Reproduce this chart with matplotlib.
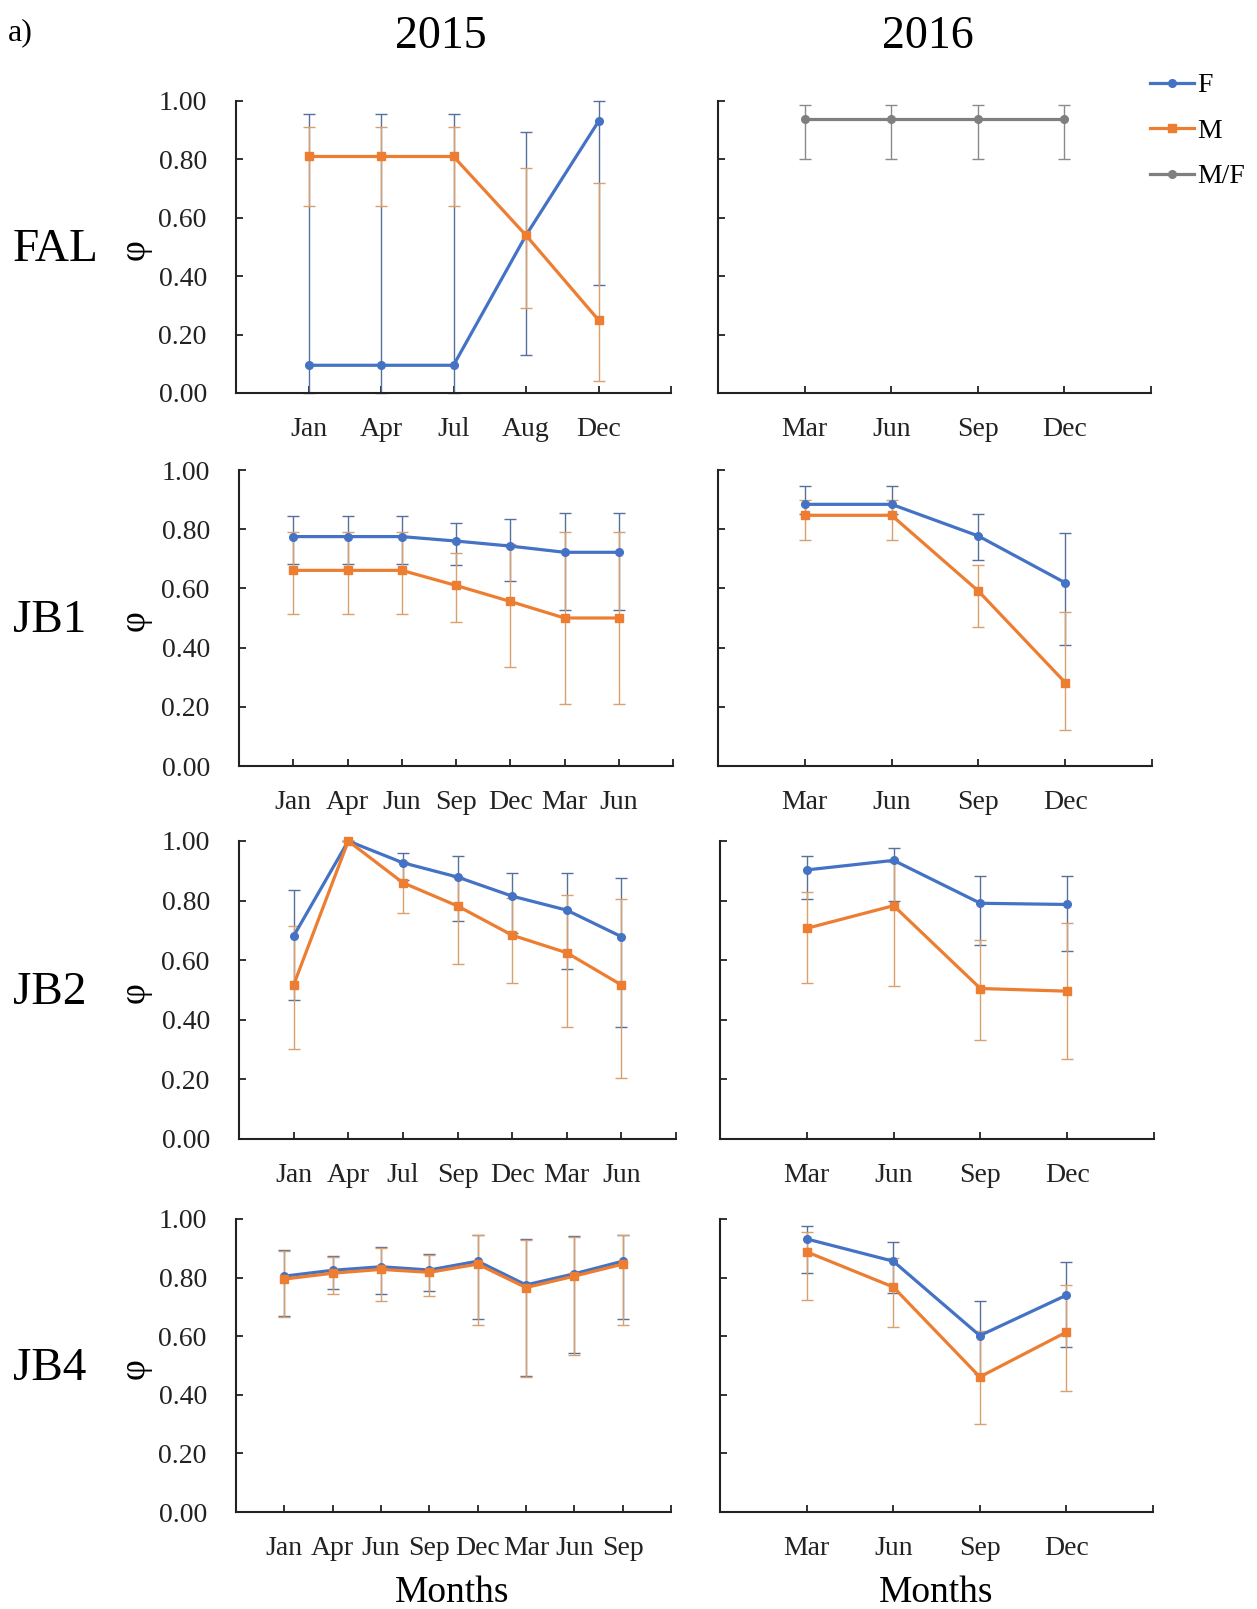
import matplotlib
matplotlib.use("Agg")
import matplotlib.pyplot as plt
import numpy as np

plt.rcParams['font.family'] = ['Liberation Serif', 'DejaVu Serif']

# ---- data ----
months_fal15 = ["Jan", "Apr", "Jul", "Aug", "Dec"]
fal15_f = [0.095, 0.095, 0.095, 0.54, 0.93]
fal15_f_lo = [0.0, 0.0, 0.0, 0.13, 0.37]
fal15_f_hi = [0.955, 0.955, 0.955, 0.895, 1.0]
fal15_m = [0.81, 0.81, 0.81, 0.54, 0.25]
fal15_m_lo = [0.64, 0.64, 0.64, 0.29, 0.04]
fal15_m_hi = [0.91, 0.91, 0.91, 0.77, 0.72]

months_16 = ["Mar", "Jun", "Sep", "Dec"]
fal16_mf = [0.94, 0.94, 0.94, 0.94]
fal16_mf_lo = [0.80, 0.80, 0.80, 0.80]
fal16_mf_hi = [0.985, 0.985, 0.985, 0.985]

months_jb1_15 = ["Jan", "Apr", "Jun", "Sep", "Dec", "Mar", "Jun"]
jb1_15_f = [0.775, 0.775, 0.775, 0.76, 0.743, 0.722, 0.722]
jb1_15_f_lo = [0.683, 0.683, 0.683, 0.679, 0.624, 0.528, 0.528]
jb1_15_f_hi = [0.845, 0.845, 0.845, 0.822, 0.834, 0.856, 0.856]
jb1_15_m = [0.661, 0.661, 0.661, 0.61, 0.556, 0.50, 0.50]
jb1_15_m_lo = [0.513, 0.513, 0.513, 0.485, 0.336, 0.208, 0.208]
jb1_15_m_hi = [0.79, 0.79, 0.79, 0.718, 0.75, 0.792, 0.792]

jb1_16_f = [0.884, 0.884, 0.777, 0.619]
jb1_16_f_lo = [0.85, 0.85, 0.697, 0.409]
jb1_16_f_hi = [0.947, 0.947, 0.852, 0.786]
jb1_16_m = [0.847, 0.847, 0.591, 0.282]
jb1_16_m_lo = [0.764, 0.764, 0.471, 0.12]
jb1_16_m_hi = [0.90, 0.90, 0.68, 0.519]

months_jb2_15 = ["Jan", "Apr", "Jul", "Sep", "Dec", "Mar", "Jun"]
jb2_15_f = [0.681, 1.0, 0.927, 0.879, 0.815, 0.768, 0.679]
jb2_15_f_lo = [0.467, 1.0, 0.87, 0.731, 0.692, 0.570, 0.375]
jb2_15_f_hi = [0.835, 1.0, 0.961, 0.95, 0.891, 0.891, 0.877]
jb2_15_m = [0.517, 1.0, 0.86, 0.782, 0.684, 0.625, 0.517]
jb2_15_m_lo = [0.301, 1.0, 0.757, 0.587, 0.522, 0.375, 0.204]
jb2_15_m_hi = [0.714, 1.0, 0.93, 0.88, 0.81, 0.818, 0.807]

jb2_16_f = [0.903, 0.935, 0.791, 0.787]
jb2_16_f_lo = [0.806, 0.80, 0.651, 0.63]
jb2_16_f_hi = [0.949, 0.976, 0.882, 0.882]
jb2_16_m = [0.707, 0.783, 0.505, 0.496]
jb2_16_m_lo = [0.525, 0.514, 0.332, 0.267]
jb2_16_m_hi = [0.828, 0.93, 0.669, 0.724]

months_jb4_15 = ["Jan", "Apr", "Jun", "Sep", "Dec", "Mar", "Jun", "Sep"]
jb4_15_f = [0.805, 0.825, 0.837, 0.826, 0.856, 0.775, 0.813, 0.856]
jb4_15_f_lo = [0.669, 0.76, 0.743, 0.754, 0.66, 0.465, 0.541, 0.66]
jb4_15_f_hi = [0.893, 0.873, 0.905, 0.881, 0.947, 0.932, 0.941, 0.947]
jb4_15_m = [0.795, 0.815, 0.828, 0.818, 0.846, 0.766, 0.805, 0.846]
jb4_15_m_lo = [0.665, 0.745, 0.72, 0.737, 0.638, 0.46, 0.535, 0.638]
jb4_15_m_hi = [0.89, 0.87, 0.90, 0.878, 0.945, 0.93, 0.94, 0.945]

jb4_16_f = [0.932, 0.856, 0.602, 0.74]
jb4_16_f_lo = [0.816, 0.748, 0.47, 0.564]
jb4_16_f_hi = [0.977, 0.922, 0.719, 0.853]
jb4_16_m = [0.888, 0.768, 0.461, 0.614]
jb4_16_m_lo = [0.725, 0.631, 0.299, 0.413]
jb4_16_m_hi = [0.956, 0.867, 0.617, 0.776]

sites = ["FAL", "JB1", "JB2", "JB4"]
years = ["2015", "2016"]

# colours
c_f, c_m, c_mf = "#4472C4", "#ED7D31", "#7F7F7F"
e_f, e_m, e_mf = "#56709c", "#d9a06e", "#8a8a8a"

W, H = 1257, 1609
fig = plt.figure(figsize=(W / 100, H / 100), dpi=100)


def box(x0, y0, x1, y1):
    return [x0 / W, 1 - y1 / H, (x1 - x0) / W, (y1 - y0) / H]


# axes boxes in pixels (left, top, right, bottom)
boxes = [
    [(236, 101, 671, 393), (718, 101, 1151, 393)],
    [(239, 470, 673, 766), (718, 470, 1152, 766)],
    [(239, 841, 676, 1139), (720, 841, 1154, 1139)],
    [(236, 1219, 671, 1512), (720, 1219, 1153, 1512)],
]

panels = [
    [(months_fal15, [(fal15_f, fal15_f_lo, fal15_f_hi, "F"), (fal15_m, fal15_m_lo, fal15_m_hi, "M")]),
     (months_16, [(fal16_mf, fal16_mf_lo, fal16_mf_hi, "M/F")])],
    [(months_jb1_15, [(jb1_15_f, jb1_15_f_lo, jb1_15_f_hi, "F"), (jb1_15_m, jb1_15_m_lo, jb1_15_m_hi, "M")]),
     (months_16, [(jb1_16_f, jb1_16_f_lo, jb1_16_f_hi, "F"), (jb1_16_m, jb1_16_m_lo, jb1_16_m_hi, "M")])],
    [(months_jb2_15, [(jb2_15_f, jb2_15_f_lo, jb2_15_f_hi, "F"), (jb2_15_m, jb2_15_m_lo, jb2_15_m_hi, "M")]),
     (months_16, [(jb2_16_f, jb2_16_f_lo, jb2_16_f_hi, "F"), (jb2_16_m, jb2_16_m_lo, jb2_16_m_hi, "M")])],
    [(months_jb4_15, [(jb4_15_f, jb4_15_f_lo, jb4_15_f_hi, "F"), (jb4_15_m, jb4_15_m_lo, jb4_15_m_hi, "M")]),
     (months_16, [(jb4_16_f, jb4_16_f_lo, jb4_16_f_hi, "F"), (jb4_16_m, jb4_16_m_lo, jb4_16_m_hi, "M")])],
]

style = {"F": (c_f, e_f, "o", 5.5), "M": (c_m, e_m, "s", 5.5), "M/F": (c_mf, e_mf, "o", 5.5)}
handles = {}

for r in range(4):
    for c in range(2):
        months, series = panels[r][c]
        ax = fig.add_axes(box(*boxes[r][c]))
        n = len(months)
        x = np.arange(1, n + 1)
        # error bars first, lines on top
        for y, lo, hi, lab in series:
            y, lo, hi = np.array(y), np.array(lo), np.array(hi)
            col, ecol, mk, ms = style[lab]
            ax.errorbar(x, y, yerr=[y - lo, hi - y], fmt='none', ecolor=ecol,
                        elinewidth=1.0, capsize=4.5, capthick=1.0, zorder=2, clip_on=False)
        for k, (y, lo, hi, lab) in enumerate(series):
            col, ecol, mk, ms = style[lab]
            ln, = ax.plot(x, y, color=col, lw=2.3, marker=mk, ms=ms, zorder=3 + k,
                          clip_on=False, label=lab)
            handles[lab] = ln
        ax.set_xlim(0, n + 1)
        ax.set_ylim(0, 1.0)
        ax.set_xticks(np.arange(1, n + 2))
        ax.set_xticklabels(months + [""])
        ax.set_yticks(np.arange(0, 1.01, 0.2))
        if c == 0:
            ax.set_yticklabels(["%.2f" % v for v in np.arange(0, 1.01, 0.2)])
        else:
            ax.set_yticklabels([])
        for s in ["top", "right"]:
            ax.spines[s].set_visible(False)
        for s in ["left", "bottom"]:
            ax.spines[s].set_linewidth(1.5)
            ax.spines[s].set_color("#222222")
        ax.tick_params(axis='y', direction='in', length=5, width=1.3, pad=21,
                       labelsize=20, colors="#222222")
        ax.tick_params(axis='x', direction='in', length=5, width=1.3, pad=17,
                       labelsize=20, colors="#222222")
        ax.patch.set_alpha(0)

    ymid = (boxes[r][0][1] + boxes[r][0][3]) / 2 + 3
    fig.text(13 / W, 1 - ymid / H, sites[r], fontsize=34, ha='left', va='center')
    fig.text(135 / W, 1 - ymid / H, "φ", fontsize=26, rotation=90, ha='center', va='center')

fig.legend([handles["F"], handles["M"], handles["M/F"]], ["F", "M", "M/F"],
           loc='upper left', bbox_to_anchor=(1125 / W, 1 - 48 / H), frameon=False,
           fontsize=20, handlelength=1.6, handletextpad=0.1, labelspacing=0.72)

fig.text(8 / W, 1 - 33 / H, "a)", fontsize=23, ha='left', va='center')
fig.text(441 / W, 1 - 37 / H, years[0], fontsize=33, ha='center', va='center')
fig.text(928 / W, 1 - 37 / H, years[1], fontsize=33, ha='center', va='center')
fig.text(452 / W, 1 - 1593 / H, "Months", fontsize=27, ha='center', va='center')
fig.text(936 / W, 1 - 1593 / H, "Months", fontsize=27, ha='center', va='center')

fig.savefig("out.png", dpi=100)
